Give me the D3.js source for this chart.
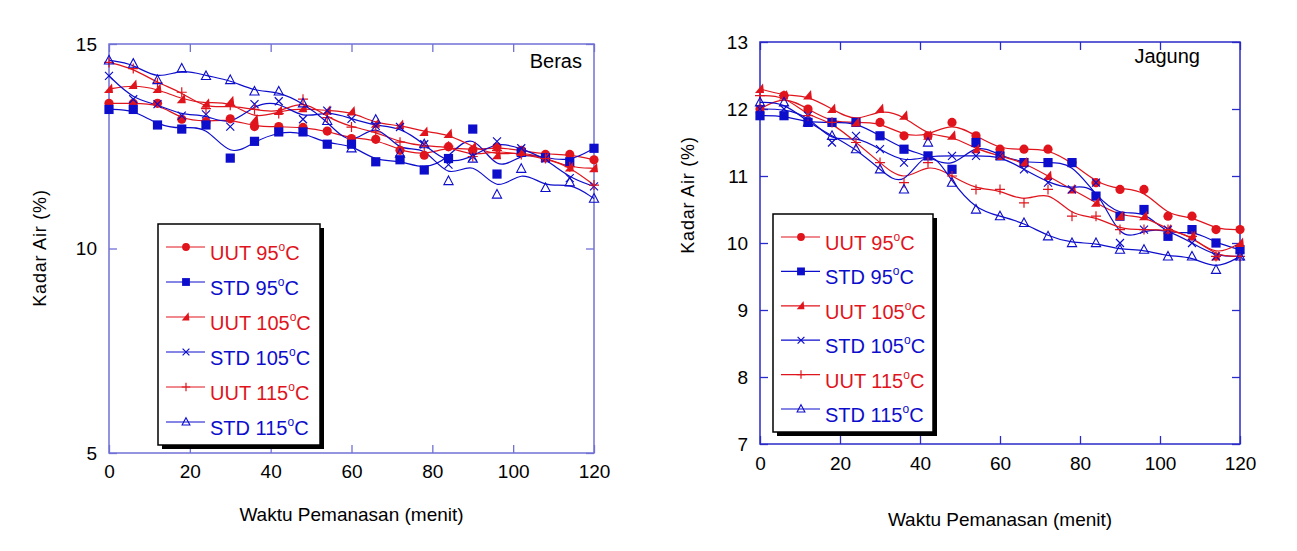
<!DOCTYPE html>
<html>
<head>
<meta charset="utf-8">
<script src="https://cdn.jsdelivr.net/npm/d3@7"></script>
<style>
  body { margin: 0; background: #fff; }
  svg { display: block; font-family: "Liberation Sans", Arial, sans-serif; }
</style>
</head>
<body>
<div id="chart"></div>
<script>
// Waktu pemanasan (menit)
const timeMin = [0, 6, 12, 18, 24, 30, 36, 42, 48, 54, 60, 66, 72, 78, 84, 90, 96, 102, 108, 114, 120];

// Beras - kadar air (%)
const berasUUT95  = [13.55, 13.55, 13.55, 13.16, 13.10, 13.17, 12.98, 12.98, 12.96, 12.87, 12.69, 12.67, 12.40, 12.28, 12.49, 12.40, 12.48, 12.40, 12.30, 12.30, 12.17];
const berasSTD95  = [13.40, 13.40, 13.02, 12.92, 13.02, 12.21, 12.62, 12.85, 12.85, 12.55, 12.55, 12.12, 12.17, 11.92, 12.20, 12.92, 11.82, 12.35, 12.22, 12.12, 12.45];
const berasUUT105 = [13.90, 14.00, 13.90, 13.65, 13.54, 13.60, 13.15, 13.36, 13.43, 13.37, 13.35, 13.05, 13.02, 12.85, 12.80, 12.48, 12.28, 12.36, 12.22, 11.98, 11.96];
const berasSTD105 = [14.22, 13.65, 13.53, 13.25, 13.28, 12.98, 13.53, 13.60, 13.16, 13.37, 13.17, 13.00, 12.97, 12.55, 12.05, 12.24, 12.62, 12.45, 12.20, 11.72, 11.52];
const berasUUT115 = [14.55, 14.40, 14.05, 13.82, 13.42, 13.50, 13.40, 13.30, 13.65, 13.20, 12.97, 12.85, 12.60, 12.50, 12.50, 12.25, 12.40, 12.30, 12.20, 12.00, 11.55];
const berasSTD115 = [14.60, 14.52, 14.12, 14.40, 14.22, 14.12, 13.84, 13.84, 13.55, 13.12, 12.45, 13.15, 12.32, 12.55, 11.65, 12.20, 11.32, 11.95, 11.48, 11.62, 11.22];

// Jagung - kadar air (%)
const jagungUUT95  = [12.00, 12.20, 12.00, 11.80, 11.80, 11.80, 11.60, 11.60, 11.80, 11.60, 11.40, 11.40, 11.40, 11.20, 10.90, 10.80, 10.80, 10.40, 10.40, 10.20, 10.20];
const jagungSTD95  = [11.90, 11.90, 11.80, 11.80, 11.80, 11.60, 11.40, 11.30, 11.10, 11.50, 11.30, 11.20, 11.20, 11.20, 10.70, 10.40, 10.50, 10.10, 10.20, 10.00, 9.90];
const jagungUUT105 = [12.30, 12.20, 12.20, 12.00, 11.80, 12.00, 11.90, 11.60, 11.60, 11.40, 11.30, 11.20, 11.00, 10.80, 10.60, 10.40, 10.40, 10.20, 10.10, 9.80, 10.00];
const jagungSTD105 = [12.00, 12.00, 11.90, 11.50, 11.60, 11.40, 11.20, 11.30, 11.30, 11.30, 11.30, 11.10, 10.90, 10.80, 10.90, 10.00, 10.20, 10.20, 10.00, 9.80, 9.80];
const jagungUUT115 = [12.20, 12.20, 11.90, 11.80, 11.50, 11.20, 10.90, 11.20, 11.00, 10.80, 10.80, 10.60, 10.80, 10.40, 10.40, 10.20, 10.20, 10.20, 10.10, 9.80, 9.80];
const jagungSTD115 = [12.10, 12.10, 11.80, 11.60, 11.40, 11.10, 10.80, 11.50, 10.90, 10.50, 10.40, 10.30, 10.10, 10.00, 10.00, 9.90, 9.90, 9.80, 9.80, 9.60, 9.80];

// Tick labels
const xTickValues = [0, 20, 40, 60, 80, 100, 120];
const berasYTicks = [5, 10, 15];
const jagungYTicks = [7, 8, 9, 10, 11, 12, 13];

const seriesLabels = ["UUT 95", "STD 95", "UUT 105", "STD 105", "UUT 115", "STD 115"];

const RED = "#e0141c";
const BLUE = "#0d0dcc";

// marker style per series (same order as seriesLabels)
const markerStyles = [
  { color: RED,  kind: "circle" },
  { color: BLUE, kind: "square" },
  { color: RED,  kind: "wedge" },
  { color: BLUE, kind: "x" },
  { color: RED,  kind: "plus" },
  { color: BLUE, kind: "tri" }
];

const width = 1297, height = 551;

const svg = d3.select("#chart")
  .append("svg")
  .attr("width", width)
  .attr("height", height)
  .attr("viewBox", `0 0 ${width} ${height}`);

function drawMarker(g, kind, color, s) {
  // s = scale factor for legend vs plot
  if (kind === "circle") {
    g.append("circle").attr("r", 4.6 * s).attr("fill", color);
  } else if (kind === "square") {
    g.append("rect").attr("x", -4.6 * s).attr("y", -4.6 * s)
      .attr("width", 9.2 * s).attr("height", 9.2 * s).attr("fill", color);
  } else if (kind === "wedge") {
    g.append("path")
      .attr("d", `M${-5 * s},${4 * s}L${4 * s},${4 * s}L${3 * s},${-5.5 * s}Z`)
      .attr("fill", color);
  } else if (kind === "x") {
    g.append("path")
      .attr("d", `M${-4 * s},${-4 * s}L${4 * s},${4 * s}M${-4 * s},${4 * s}L${4 * s},${-4 * s}`)
      .attr("stroke", color).attr("stroke-width", 1.2).attr("fill", "none");
  } else if (kind === "plus") {
    g.append("path")
      .attr("d", `M${-5 * s},0L${5 * s},0M0,${-5 * s}L0,${5 * s}`)
      .attr("stroke", color).attr("stroke-width", 1.2).attr("fill", "none");
  } else if (kind === "tri") {
    g.append("path")
      .attr("d", `M0,${-5 * s}L${4.6 * s},${3.6 * s}L${-4.6 * s},${3.6 * s}Z`)
      .attr("stroke", color).attr("stroke-width", 1.1).attr("fill", "none");
  }
}

function drawPanel(p) {
  const xScale = d3.scaleLinear().domain([0, 120]).range([p.x0, p.x1]);
  const yScale = d3.scaleLinear().domain(p.yDomain).range([p.y1, p.y0]);
  const g = svg.append("g");

  // ticks (inward, all four sides)
  const tickLen = 8;
  const bottom = g.append("g")
    .attr("transform", `translate(0, ${p.y1})`)
    .call(d3.axisBottom(xScale).tickValues(xTickValues).tickSizeInner(-tickLen).tickSizeOuter(0).tickPadding(p.xPad));
  const top = g.append("g")
    .attr("transform", `translate(0, ${p.y0})`)
    .call(d3.axisTop(xScale).tickValues(xTickValues).tickSizeInner(-tickLen).tickSizeOuter(0).tickFormat(""));
  const left = g.append("g")
    .attr("transform", `translate(${p.x0}, 0)`)
    .call(d3.axisLeft(yScale).tickValues(p.yTicks).tickFormat(d3.format("d")).tickSizeInner(-tickLen).tickSizeOuter(0).tickPadding(12));
  const right = g.append("g")
    .attr("transform", `translate(${p.x1}, 0)`)
    .call(d3.axisRight(yScale).tickValues(p.yTicks).tickSizeInner(-tickLen).tickSizeOuter(0).tickFormat(""));

  [bottom, top, left, right].forEach(a => {
    a.select(".domain").remove();
    a.selectAll("line").attr("stroke", p.axisColor).attr("stroke-width", 1.3);
    a.selectAll("text")
      .attr("fill", "#000")
      .style("font-size", "19px")
      .style("font-family", "Liberation Sans, Arial, sans-serif");
  });

  // frame
  g.append("rect")
    .attr("x", p.x0).attr("y", p.y0)
    .attr("width", p.x1 - p.x0).attr("height", p.y1 - p.y0)
    .attr("fill", "none")
    .attr("stroke", p.axisColor)
    .attr("stroke-width", 1.5);

  // axis titles
  g.append("text")
    .text("Waktu Pemanasan (menit)")
    .attr("x", (p.x0 + p.x1) / 2)
    .attr("y", p.xTitleY)
    .attr("text-anchor", "middle")
    .style("font-size", "19px");

  g.append("text")
    .text("Kadar Air (%)")
    .attr("transform", `translate(${p.yTitleX}, ${p.yTitleCY}) rotate(-90)`)
    .attr("text-anchor", "middle")
    .style("font-size", "18px")
    .style("letter-spacing", "0.8px");

  // panel name
  g.append("text")
    .text(p.name)
    .attr("x", p.nameX)
    .attr("y", p.nameY)
    .attr("text-anchor", "end")
    .style("font-size", "20px");

  // smoothed lines
  const line = d3.line()
    .x((d, i) => xScale(timeMin[i]))
    .y(d => yScale(d))
    .curve(d3.curveBasis);

  p.series.forEach((vals, k) => {
    g.append("path")
      .datum(vals)
      .attr("fill", "none")
      .attr("stroke", markerStyles[k].color)
      .attr("stroke-width", 1.2)
      .attr("d", line);
  });

  // markers
  p.series.forEach((vals, k) => {
    const st = markerStyles[k];
    g.selectAll(null)
      .data(vals)
      .enter()
      .append("g")
      .attr("transform", (d, i) => `translate(${xScale(timeMin[i])}, ${yScale(d)})`)
      .each(function () { drawMarker(d3.select(this), st.kind, st.color, 1); });
  });

  // legend
  const lg = g.append("g").attr("transform", `translate(${p.legX}, ${p.legY})`);
  lg.append("rect")
    .attr("x", 4).attr("y", 4)
    .attr("width", p.legW).attr("height", p.legH)
    .attr("fill", "#000");
  lg.append("rect")
    .attr("x", 0).attr("y", 0)
    .attr("width", p.legW).attr("height", p.legH)
    .attr("fill", "#fff")
    .attr("stroke", "#000")
    .attr("stroke-width", 1.5);

  const row = lg.selectAll(".legend-item")
    .data(seriesLabels)
    .enter()
    .append("g")
    .attr("class", "legend-item")
    .attr("transform", (d, i) => `translate(0, ${p.legRow0 + i * p.legStep})`);

  row.append("line")
    .attr("x1", 8).attr("x2", 47)
    .attr("stroke", (d, i) => markerStyles[i].color)
    .attr("stroke-width", 1.2);

  row.each(function (d, i) {
    const m = d3.select(this).append("g").attr("transform", "translate(28, 0)");
    drawMarker(m, markerStyles[i].kind, markerStyles[i].color, 0.85);
  });

  const txt = row.append("text")
    .attr("x", 52)
    .attr("y", 13)
    .attr("fill", (d, i) => markerStyles[i].color)
    .style("font-size", "20px");
  txt.append("tspan").text(d => d);
  txt.append("tspan").text("o").attr("dy", -9).style("font-size", "12px");
  txt.append("tspan").text("C").attr("dy", 9);
}

drawPanel({
  name: "Beras", nameX: 582, nameY: 68,
  x0: 109, x1: 594, y0: 44, y1: 453,
  yDomain: [5, 15], yTicks: berasYTicks,
  axisColor: "#7070d6", xPad: 12,
  xTitleY: 521, yTitleX: 46, yTitleCY: 248,
  series: [berasUUT95, berasSTD95, berasUUT105, berasSTD105, berasUUT115, berasSTD115],
  legX: 158, legY: 224, legW: 162, legH: 221, legRow0: 23, legStep: 35
});

drawPanel({
  name: "Jagung", nameX: 1200, nameY: 63,
  x0: 760, x1: 1240, y0: 42, y1: 444,
  yDomain: [7, 13], yTicks: jagungYTicks,
  axisColor: "#2a2ac8", xPad: 13,
  xTitleY: 526, yTitleX: 694, yTitleCY: 195,
  series: [jagungUUT95, jagungSTD95, jagungUUT105, jagungSTD105, jagungUUT115, jagungSTD115],
  legX: 773, legY: 214, legW: 160, legH: 218, legRow0: 23, legStep: 34.4
});
</script>
</body>
</html>
